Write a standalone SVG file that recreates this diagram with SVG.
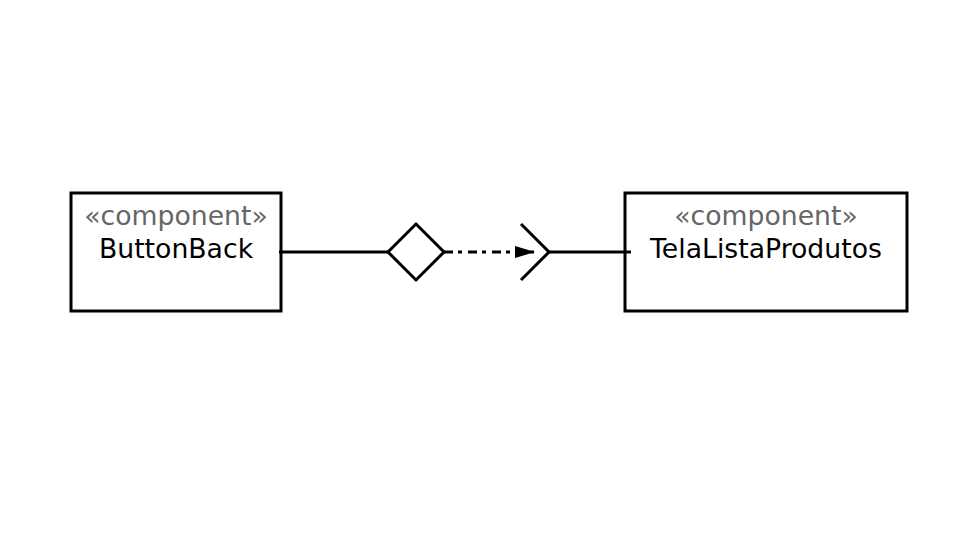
<svg xmlns="http://www.w3.org/2000/svg" width="960" height="540" viewBox="0 0 960 540">
<defs>
<style>
.box{fill:#fff;stroke:#000;stroke-width:3}
.st{font-family:"DejaVu Sans",Verdana,sans-serif;font-size:26.7px;fill:#666;text-anchor:middle}
.nm{font-family:"DejaVu Sans",Verdana,sans-serif;font-size:26.7px;fill:#000;text-anchor:middle}
.ln{fill:none;stroke:#000;stroke-width:3}
</style>
<marker id="arr" markerWidth="20" markerHeight="12" refX="20" refY="6" orient="auto" markerUnits="userSpaceOnUse">
<path d="M0,0 L20,6 L0,12 Z" fill="#000"/>
</marker>
</defs>
<rect width="960" height="540" fill="#fff"/>
<g id="ButtonBack">
<rect class="box" x="71" y="193" width="210" height="118"/>
<text class="st" x="176" y="225">«component»</text>
<text class="nm" x="176" y="258">ButtonBack</text>
</g>
<g id="TelaListaProdutos">
<rect class="box" x="625" y="193" width="282" height="118"/>
<text class="st" x="766" y="225">«component»</text>
<text class="nm" x="766" y="258">TelaListaProdutos</text>
</g>
<g id="connectors">
<line class="ln" x1="279" y1="252" x2="388" y2="252"/>
<path class="ln" d="M416,224 L444,252 L416,280 L388,252 Z"/>
<line class="ln" x1="444" y1="252" x2="535" y2="252" stroke-dasharray="9,5,4,6" marker-end="url(#arr)"/>
<path class="ln" d="M521,224 L549,252 L521,280"/>
<line class="ln" x1="549" y1="252" x2="631" y2="252"/>
</g>
</svg>
